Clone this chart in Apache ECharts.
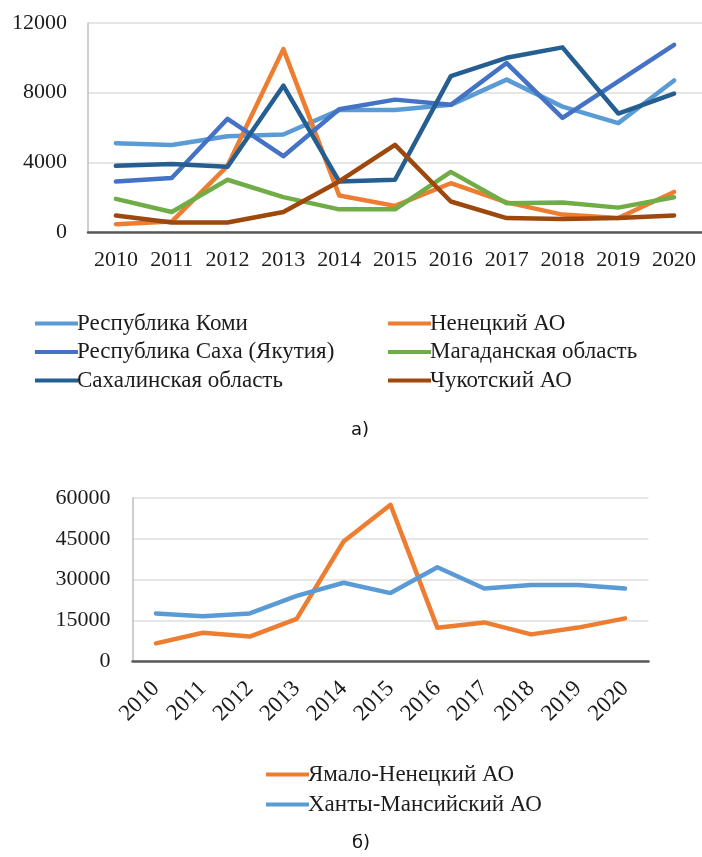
<!DOCTYPE html>
<html>
<head>
<meta charset="utf-8">
<script src="https://cdn.jsdelivr.net/npm/echarts@6/dist/echarts.min.js"></script>
<style>
  html, body { margin: 0; padding: 0; background: #fff; }
  #main { width: 702px; height: 857px; }
</style>
</head>
<body>
<div id="main"></div>
<script>
// годы
var years = ['2010', '2011', '2012', '2013', '2014', '2015', '2016', '2017', '2018', '2019', '2020'];

// а) верхний график
var komi = [5100, 5000, 5500, 5600, 7000, 7000, 7300, 8750, 7200, 6250, 8700];
var nenets = [450, 600, 3800, 10500, 2100, 1500, 2800, 1700, 1000, 800, 2300];
var sakha = [2900, 3100, 6500, 4350, 7050, 7600, 7300, 9700, 6550, 8650, 10750];
var magadan = [1900, 1150, 3000, 2000, 1300, 1300, 3450, 1650, 1700, 1400, 2000];
var sakhalin = [3800, 3900, 3750, 8400, 2900, 3000, 8950, 10000, 10600, 6800, 7950];
var chukotka = [950, 550, 550, 1150, 2900, 5000, 1750, 800, 750, 800, 950];

// б) нижний график
var yamal = [6500, 10400, 9000, 15500, 44000, 57500, 12200, 14200, 9800, 12300, 15700];
var khanty = [17500, 16500, 17500, 24000, 28800, 25000, 34500, 26700, 28000, 28000, 26700];

var serif = 'Liberation Serif';
var txtColor = '#1c1c1c';

function line(name, data, color, idx) {
    return {
        name: name,
        type: 'line',
        xAxisIndex: idx,
        yAxisIndex: idx,
        data: data,
        symbol: 'none',
        lineStyle: { color: color, width: 4.5, cap: 'round', join: 'round' },
        itemStyle: { color: color },
        emphasis: { disabled: true }
    };
}

function legendBox(data, left, top, gap) {
    return {
        orient: 'vertical',
        left: left,
        top: top,
        data: data,
        icon: 'rect',
        itemWidth: 43,
        itemHeight: 4,
        itemGap: gap,
        selectedMode: false,
        textStyle: { fontFamily: serif, fontSize: 23, color: txtColor, lineHeight: 22, padding: [0, 0, 0, -6] }
    };
}

function plain(v) {
    return String(v);
}

var chart = echarts.init(document.getElementById('main'));

var option = {
    animation: false,
    backgroundColor: '#fff',
    title: [
        { text: 'а)', left: 346, top: 416, textStyle: { fontFamily: 'DejaVu Sans', fontSize: 18, fontWeight: 'normal', color: '#111' } },
        { text: 'б)', left: 347, top: 829, textStyle: { fontFamily: 'DejaVu Sans', fontSize: 18, fontWeight: 'normal', color: '#111' } }
    ],
    legend: [
        legendBox(['Республика Коми', 'Республика Саха (Якутия)', 'Сахалинская область'], 30, 307, 5.5),
        legendBox(['Ненецкий АО', 'Магаданская область', 'Чукотский АО'], 383, 307, 5.5),
        legendBox(['Ямало-Ненецкий АО', 'Ханты-Мансийский АО'], 261, 758, 7)
    ],
    grid: [
        { left: 88, top: 23, width: 618, height: 209 },
        { left: 132.5, top: 498, width: 516, height: 163 }
    ],
    xAxis: [
        {
            gridIndex: 0,
            type: 'category',
            data: years,
            axisLine: { lineStyle: { color: '#595959', width: 2.5 } },
            axisTick: { show: false },
            axisLabel: { fontFamily: serif, fontSize: 22, color: txtColor, margin: 17, interval: 0 }
        },
        {
            gridIndex: 1,
            type: 'category',
            data: years,
            axisLine: { lineStyle: { color: '#595959', width: 2.5 } },
            axisTick: { show: false },
            axisLabel: {
                fontFamily: serif, fontSize: 23, color: txtColor,
                margin: 24, rotate: 45, interval: 0, padding: [17, 0, 0, 0]
            }
        }
    ],
    yAxis: [
        {
            gridIndex: 0,
            type: 'value',
            min: 0,
            max: 12000,
            interval: 4000,
            axisLine: { show: true, lineStyle: { color: '#bfbfbf', width: 1.5 } },
            axisTick: { show: false },
            splitLine: { lineStyle: { color: '#dedede', width: 1.5 } },
            axisLabel: { fontFamily: serif, fontSize: 22, color: txtColor, margin: 21, formatter: plain }
        },
        {
            gridIndex: 1,
            type: 'value',
            min: 0,
            max: 60000,
            interval: 15000,
            axisLine: { show: true, lineStyle: { color: '#bfbfbf', width: 1.5 } },
            axisTick: { show: false },
            splitLine: { lineStyle: { color: '#dedede', width: 1.5 } },
            axisLabel: { fontFamily: serif, fontSize: 22, color: txtColor, margin: 22, formatter: plain }
        }
    ],
    series: [
        line('Республика Коми', komi, '#5b9bd5', 0),
        line('Ненецкий АО', nenets, '#ed7d31', 0),
        line('Республика Саха (Якутия)', sakha, '#4472c4', 0),
        line('Магаданская область', magadan, '#70ad47', 0),
        line('Сахалинская область', sakhalin, '#255e91', 0),
        line('Чукотский АО', chukotka, '#9e480e', 0),
        line('Ямало-Ненецкий АО', yamal, '#ed7d31', 1),
        line('Ханты-Мансийский АО', khanty, '#5b9bd5', 1)
    ]
};

chart.setOption(option);
</script>
</body>
</html>
